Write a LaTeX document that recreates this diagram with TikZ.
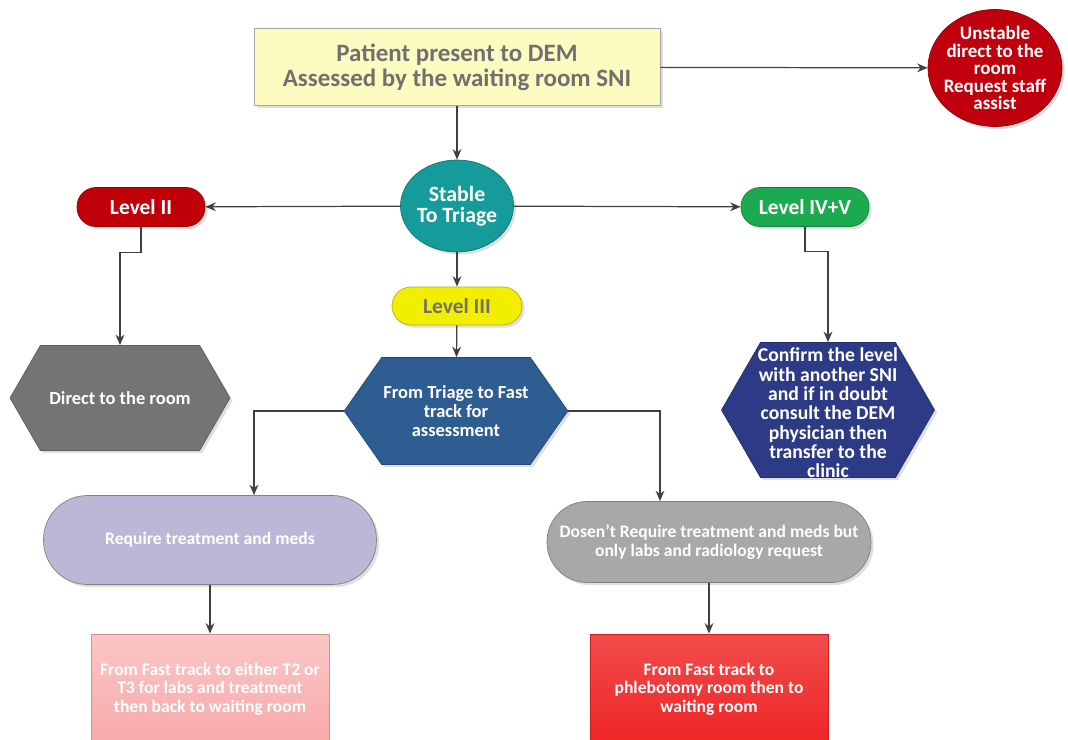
\documentclass[tikz,border=0pt]{standalone}
\usepackage{fontspec}
\setmainfont{Carlito}
\usetikzlibrary{arrows.meta,shapes.geometric,shapes.symbols,calc,shadows}

\definecolor{linegray}{HTML}{404040}
\definecolor{textgray}{HTML}{707070}
\definecolor{paleyellow}{HTML}{FCFCC0}
\definecolor{unstred}{HTML}{C0000C}
\definecolor{triageteal}{HTML}{169B9B}
\definecolor{lvred}{HTML}{C00008}
\definecolor{lvgreen}{HTML}{1CAA50}
\definecolor{lvyellow}{HTML}{F2EE00}
\definecolor{hexgray}{HTML}{747474}
\definecolor{hexblue}{HTML}{2E5D92}
\definecolor{hexnavy}{HTML}{2D3B86}
\definecolor{lavender}{HTML}{BEB6D6}
\definecolor{pillgray}{HTML}{A8A8A8}
\definecolor{pinktop}{HTML}{FBC6C6}
\definecolor{pinkbot}{HTML}{F7A9A9}
\definecolor{redtop}{HTML}{F24C4C}
\definecolor{redbot}{HTML}{EE2424}

\tikzset{
  softshadow/.style={drop shadow={opacity=0.25, shadow xshift=1.5pt, shadow yshift=-1.5pt}},
  arr/.style={draw=linegray, line width=0.7pt, -{Stealth[length=6pt,width=5pt]}},
  topbox/.style={rectangle, draw=gray!70, fill=paleyellow, text=textgray, align=center,
    font=\fontsize{14.2}{14.4}\selectfont\bfseries, minimum width=8.12cm, minimum height=1.54cm, softshadow},
  blob/.style={ellipse, draw=#1!75!black, fill=#1, softshadow},
  pill/.style={rectangle, rounded corners=0.38cm, draw=#1!75!black, fill=#1, text=white,
    font=\fontsize{12.2}{13}\selectfont\bfseries, minimum width=2.56cm, minimum height=0.78cm, softshadow},
  hexa/.style={signal, signal to=east and west, signal pointer angle=120, draw=#1!80!black, fill=#1,
    text=white, align=center, inner sep=1pt, font=\fontsize{10.5}{10.8}\selectfont\bfseries, softshadow},
  inner text/.style={text=white, align=center, inner sep=0pt},
  stadium/.style={rectangle, draw=gray, fill=#1, text=white, align=center,
    font=\fontsize{10}{10.6}\selectfont\bfseries, softshadow},
  outbox/.style={rectangle, draw=#1!85!black, text=white, align=center,
    font=\fontsize{10}{10.6}\selectfont\bfseries, minimum width=4.76cm, minimum height=2.2cm}
}

\begin{document}
\begin{tikzpicture}[x=0.02cm, y=-0.02cm]
\useasboundingbox (0,0) rectangle (1068,740);
\clip (0,0) rectangle (1068,740);

% entry and first split
\node[topbox] (patient) at (457,67) {Patient present to DEM\\Assessed by the waiting room SNI};
\node[blob=unstred, minimum width=2.68cm, minimum height=2.34cm] (unstable) at (995,68) {};
\node[inner text, font=\fontsize{10.8}{10}\selectfont\bfseries] (unstabletext) at (unstable)
      {Unstable\\direct to the\\room\\Request staff\\assist};
\node[blob=triageteal, minimum width=2.26cm, minimum height=1.84cm] (stable) at (457,206) {};
\node[inner text, font=\fontsize{12.4}{12}\selectfont\bfseries] (stabletext) at (stable) {Stable\\To Triage};

% triage levels
\node[pill=lvred] (lvtwo) at (141,207) {Level II};
\node[pill=lvgreen] (lvfour) at (805,207) {Level IV+V};
\node[pill=lvyellow, text=textgray, minimum width=2.6cm, minimum height=0.76cm] (lvthree) at (457,306) {Level III};

% hexagons
\node[hexa=hexgray, minimum width=4.4cm, minimum height=2.1cm] (direct) at (120,398) {Direct to the room};
\node[hexa=hexblue, signal pointer angle=110, minimum width=4.36cm, minimum height=2.14cm] (fasttrack) at (456,411)
      {From Triage to Fast\\track for\\assessment};
\node[hexa=hexnavy, minimum width=4.26cm, minimum height=2.7cm] (confirm) at (828,410) {};
\node[inner text, font=\fontsize{11.2}{11}\selectfont\bfseries] (confirmtext) at (828,413)
      {Confirm the level\\with another SNI\\and if in doubt\\consult the DEM\\physician then\\transfer to the\\clinic};

% fast track outcomes
\node[stadium=lavender, minimum width=6.66cm, minimum height=1.78cm, rounded corners=0.88cm] (treat) at (210,540)
      {Require treatment and meds};
\node[stadium=pillgray, minimum width=6.48cm, minimum height=1.62cm, rounded corners=0.8cm] (labs) at (709,542)
      {Dosen’t Require treatment and meds but\\only labs and radiology request};
\node[outbox=pinkbot, top color=pinktop, bottom color=pinkbot] (backwait) at (210,689)
      {From Fast track to either T2 or\\T3 for labs and treatment\\then back to waiting room};
\node[outbox=redbot, top color=redtop, bottom color=redbot] (phlebo) at (709,689)
      {From Fast track to\\phlebotomy room then to\\waiting room};

% connectors
\draw[arr] (patient) -- (unstable);
\draw[arr] (patient) -- (stable);
\draw[arr] (stable) -- (lvtwo);
\draw[arr] (stable) -- (lvfour);
\draw[arr] (stable) -- (lvthree);
\draw[arr] (lvtwo.south) -- ++(0,26) -| (direct.north);
\draw[arr] (lvfour.south) -- ++(0,25) -| (confirm.north);
\draw[arr] (lvthree) -- (fasttrack);
\draw[arr] (fasttrack.west) -| ($(treat.north)+(44,0)$);
\draw[arr] (fasttrack.east) -| ($(labs.north)+(-49,0)$);
\draw[arr] (treat) -- (backwait);
\draw[arr] (labs) -- (phlebo);
\end{tikzpicture}
\end{document}
